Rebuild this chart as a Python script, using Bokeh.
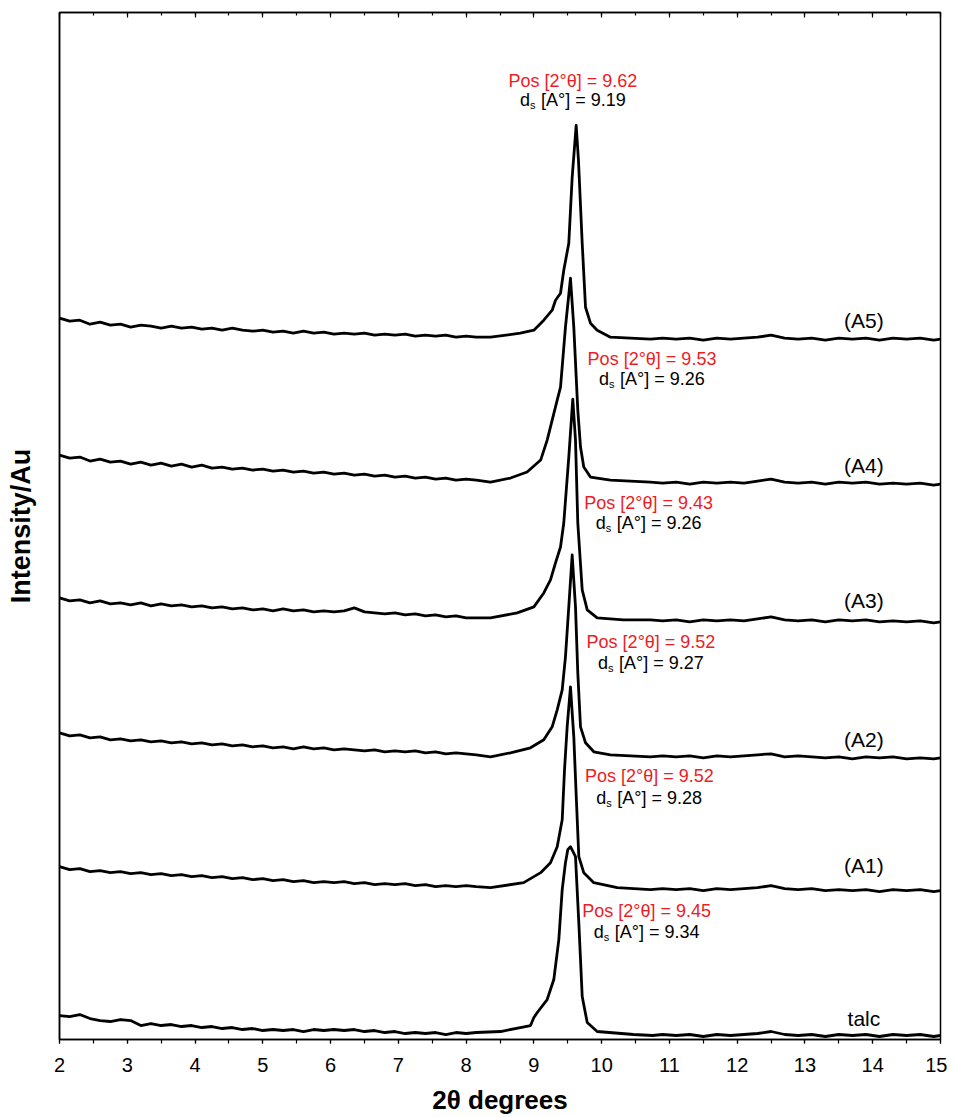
from bokeh.plotting import figure
from bokeh.models import LinearAxis, SingleIntervalTicker, FixedTicker, Range1d
from bokeh.core.properties import value
from bokeh.embed import file_html
from bokeh.resources import INLINE

# ---- data (2theta in degrees, intensity in arbitrary units) ----
left_x = [2.0, 2.15, 2.3, 2.45, 2.6, 2.75, 2.9,
          3.05, 3.2, 3.35, 3.5, 3.65, 3.8, 3.95,
          4.1, 4.25, 4.4, 4.55, 4.7, 4.85, 5.0,
          5.15, 5.3, 5.45, 5.6, 5.75, 5.9, 6.05,
          6.2, 6.35, 6.5, 6.65, 6.8, 6.95, 7.1,
          7.25, 7.4, 7.55, 7.7, 7.85, 8.0, 8.15]
right_x = [10.9, 11.1, 11.3, 11.5, 11.7, 11.9, 12.1, 12.3, 12.5, 12.7, 12.9,
           13.1, 13.3, 13.5, 13.7, 13.9, 14.1, 14.3, 14.5, 14.7, 14.9, 15.0]

talc_left = [24, 23, 25, 21, 19, 18, 20,
             19, 14, 16, 14, 15, 13, 14,
             12, 13, 11, 12, 10, 11, 9,
             10, 9, 10, 8, 10, 9, 10,
             9, 10, 8, 9, 7, 8, 6,
             7, 6, 7, 5, 7, 6, 7]
talc_peak_x = [8.51, 8.80, 8.95, 9.00, 9.05, 9.196, 9.294, 9.368, 9.418, 9.466, 9.50, 9.54,
               9.614, 9.663, 9.713, 9.787, 9.934, 10.47, 10.75]
talc_peak = [8, 12, 14, 22, 27, 40, 60, 100, 150, 177, 190, 193, 183, 117, 43, 17, 8, 5, 4]
talc_right = [5, 4, 5, 3, 5, 4, 5, 6, 8, 5, 4,
              5, 3, 5, 4, 5, 3, 5, 4, 5, 3, 4]

a1_left = [173, 170, 171, 168, 169, 167, 168,
           166, 167, 165, 166, 164, 165, 163,
           164, 162, 163, 161, 162, 160, 161,
           159, 160, 158, 159, 157, 158, 157,
           158, 156, 157, 155, 156, 155, 156,
           154, 155, 153, 154, 153, 154, 153]
a1_peak_x = [8.36, 8.85, 9.10, 9.245, 9.344, 9.418, 9.452, 9.491, 9.54, 9.589, 9.629, 9.663,
             9.736, 9.884, 10.23, 10.72]
a1_peak = [152, 157, 167, 177, 193, 220, 270, 313, 353, 303, 237, 183, 167, 157, 152, 150]
a1_right = [151, 150, 151, 149, 151, 150, 151, 152, 154, 151, 150,
            151, 149, 150, 149, 150, 148, 150, 149, 150, 148, 149]

a2_left = [307, 304, 305, 302, 303, 300, 301,
           299, 300, 298, 299, 297, 298, 296,
           297, 295, 296, 294, 295, 293, 294,
           292, 293, 291, 293, 291, 292, 290,
           291, 290, 289, 290, 288, 289, 288,
           289, 287, 288, 286, 287, 286, 285]
a2_peak_x = [8.36, 8.655, 8.95, 9.146, 9.27, 9.344, 9.418, 9.466, 9.515, 9.565, 9.614, 9.648,
             9.688, 9.762, 9.884, 10.13, 10.72]
a2_peak = [283, 287, 292, 300, 313, 330, 350, 383, 433, 485, 433, 367, 313, 297, 288, 285, 283]
a2_right = [284, 283, 284, 282, 284, 283, 284, 285, 286, 283, 284,
            283, 282, 283, 281, 283, 282, 283, 281, 282, 281, 282]

a3_left = [442, 439, 440, 437, 439, 436, 437,
           435, 437, 434, 436, 434, 435, 433,
           434, 432, 433, 431, 432, 430, 431,
           429, 431, 429, 430, 428, 429, 428,
           429, 432, 428, 427, 426, 427, 425,
           426, 424, 425, 423, 424, 422, 422]
a3_peak_x = [8.36, 8.754, 9.00, 9.146, 9.245, 9.319, 9.393, 9.441, 9.515, 9.574, 9.614, 9.648,
             9.713, 9.787, 9.934, 10.32, 10.72]
a3_peak = [422, 427, 433, 447, 460, 477, 493, 517, 583, 641, 600, 517, 450, 430, 422, 420, 420]
a3_right = [419, 420, 418, 420, 419, 420, 419, 421, 423, 420, 419,
            420, 418, 420, 419, 420, 418, 419, 418, 419, 417, 418]

a4_left = [585, 582, 583, 579, 581, 578, 579,
           576, 578, 575, 577, 574, 576, 573,
           575, 572, 573, 571, 572, 570, 571,
           569, 570, 568, 569, 567, 568, 566,
           567, 565, 566, 564, 565, 563, 564,
           562, 563, 561, 562, 560, 561, 560]
a4_peak_x = [8.36, 8.655, 8.90, 9.10, 9.196, 9.27, 9.344, 9.393, 9.466, 9.54, 9.589, 9.648,
             9.688, 9.736, 9.835, 10.13, 10.72]
a4_peak = [558, 562, 568, 580, 600, 620, 640, 653, 713, 762, 713, 630, 593, 573, 563, 560, 558]
a4_right = [557, 558, 556, 558, 557, 558, 557, 559, 561, 558, 557,
            558, 556, 558, 557, 558, 556, 557, 556, 557, 555, 556]

a5_left = [722, 719, 720, 716, 718, 715, 716,
           713, 715, 714, 712, 714, 712, 713,
           711, 712, 710, 712, 710, 709, 710,
           708, 709, 707, 709, 707, 708, 706,
           707, 706, 707, 705, 706, 705, 706,
           704, 705, 704, 705, 703, 704, 703]
a5_peak_x = [8.36, 8.80, 9.00, 9.146, 9.27, 9.319, 9.393, 9.441, 9.515, 9.565, 9.624, 9.658,
             9.713, 9.762, 9.835, 9.934, 10.13, 10.72]
a5_peak = [703, 707, 710, 720, 730, 740, 747, 770, 797, 863, 915, 880, 797, 733, 717, 710, 703, 701]
a5_right = [702, 701, 702, 700, 702, 701, 702, 703, 705, 702, 701,
            702, 700, 702, 701, 702, 700, 702, 701, 702, 700, 701]

curve_names = ["talc", "(A1)", "(A2)", "(A3)", "(A4)", "(A5)"]
pos_texts = ["Pos [2°θ] = 9.45", "Pos [2°θ] = 9.52", "Pos [2°θ] = 9.52",
             "Pos [2°θ] = 9.43", "Pos [2°θ] = 9.53", "Pos [2°θ] = 9.62"]
ds_texts = ["[A°] = 9.34", "[A°] = 9.28", "[A°] = 9.27",
            "[A°] = 9.26", "[A°] = 9.26", "[A°] = 9.19"]
x_ticks_major = list(range(2, 16))

# ---- layout positions for annotations (data coords) ----
ann_x = [10.665, 10.703, 10.728, 10.694, 10.743, 9.577]
pos_y = [129, 264, 398, 537, 681, 959]
ds_y = [108, 242, 377, 517, 661, 940]
name_x = 13.87
name_y = [21, 174, 300, 439, 575, 720]

FONT = value("Liberation Sans")
RED = "#ED1C24"

p = figure(width=947, height=1117, x_range=Range1d(2, 15), y_range=Range1d(0, 1028),
           output_backend="svg", toolbar_location=None,
           min_border_left=59, min_border_right=7, min_border_top=12, min_border_bottom=77)
p.xgrid.visible = False
p.ygrid.visible = False
p.outline_line_color = "black"
p.outline_line_width = 1.5
p.outline_line_alpha = 1.0

xa = p.xaxis[0]
xa.ticker = SingleIntervalTicker(interval=1, num_minor_ticks=2)
xa.axis_label = "2θ degrees"
xa.axis_label_text_font = "Liberation Sans"
xa.axis_label_text_font_style = "bold"
xa.axis_label_text_font_size = "26px"
xa.axis_label_text_color = "black"
xa.axis_label_standoff = 10
xa.major_label_text_font = "Liberation Sans"
xa.major_label_text_font_size = "20px"
xa.major_label_text_color = "black"
xa.major_label_standoff = 14
xa.major_tick_in = 0
xa.major_tick_out = 4
xa.minor_tick_in = 0
xa.minor_tick_out = 4
xa.axis_line_width = 1.5
xa.major_tick_line_width = 1.2
xa.minor_tick_line_width = 1.2

ya = p.yaxis[0]
ya.ticker = FixedTicker(ticks=[])
ya.axis_label = "Intensity/Au"
ya.axis_label_text_font = "Liberation Sans"
ya.axis_label_text_font_style = "bold"
ya.axis_label_text_font_size = "27px"
ya.axis_label_text_color = "black"
ya.axis_label_standoff = 24
ya.major_label_standoff = 0
ya.major_tick_in = 0
ya.major_tick_out = 0
ya.minor_tick_in = 0
ya.minor_tick_out = 0
ya.axis_line_width = 1.5

top = LinearAxis(ticker=SingleIntervalTicker(interval=1, num_minor_ticks=2),
                 major_label_overrides={t: "" for t in x_ticks_major},
                 major_label_standoff=0, major_tick_in=5, major_tick_out=0,
                 minor_tick_in=3, minor_tick_out=0, axis_line_width=1.5,
                 major_tick_line_width=1.2, minor_tick_line_width=1.2)
p.add_layout(top, "above")

curves = [
    (talc_left, talc_peak_x, talc_peak, talc_right),
    (a1_left, a1_peak_x, a1_peak, a1_right),
    (a2_left, a2_peak_x, a2_peak, a2_right),
    (a3_left, a3_peak_x, a3_peak, a3_right),
    (a4_left, a4_peak_x, a4_peak, a4_right),
    (a5_left, a5_peak_x, a5_peak, a5_right),
]
for lft, pkx, pky, rgt in curves:
    xs = left_x + pkx + right_x
    ys = lft + pky + rgt
    p.line(xs, ys, line_color="black", line_width=2.8, line_join="round")

# curve labels
p.text(x=[name_x] * 6, y=name_y, text=curve_names, text_font=FONT, text_font_size="21px",
       text_color="black", text_align="center", text_baseline="alphabetic")

# peak annotations
p.text(x=ann_x, y=pos_y, text=pos_texts, text_font=FONT, text_font_size="18px",
       text_color=RED, text_align="center", text_baseline="alphabetic")
W = 106
p.text(x=ann_x, y=ds_y, text=["d"] * 6, text_font=FONT, text_font_size="18px",
       text_color="black", text_align="left", text_baseline="alphabetic", x_offset=-W / 2)
p.text(x=ann_x, y=ds_y, text=["s"] * 6, text_font=FONT, text_font_size="11px",
       text_color="black", text_align="left", text_baseline="alphabetic",
       x_offset=-W / 2 + 10, y_offset=5)
p.text(x=ann_x, y=ds_y, text=ds_texts, text_font=FONT, text_font_size="18px",
       text_color="black", text_align="left", text_baseline="alphabetic",
       x_offset=-W / 2 + 21)

open("out.html", "w").write(file_html(p, INLINE))
